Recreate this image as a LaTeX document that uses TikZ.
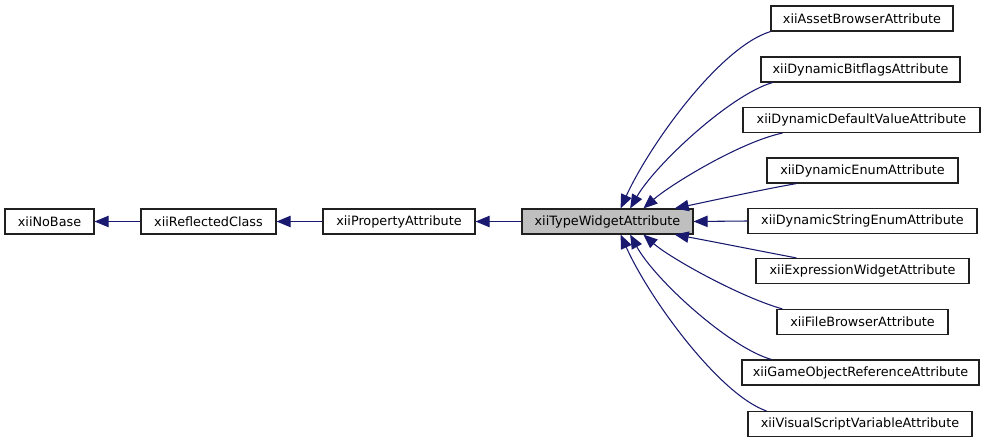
\documentclass[tikz,border=0pt]{standalone}
\usepackage{fontspec}
\setmainfont{DejaVu Sans}
\usetikzlibrary{arrows.meta, calc}
\definecolor{edgeNavy}{HTML}{191970}
\definecolor{baseGray}{HTML}{BFBFBF}
\definecolor{boxLine}{HTML}{202020}
\tikzstyle{classbox} = [rectangle, draw=boxLine, fill=white, line width=0.85pt,
  minimum height=18.75pt, inner sep=0pt, font=\fontsize{9.6}{11}\selectfont]
\tikzstyle{inh} = [-{Triangle[length=10.5pt,width=8.5pt]}, color=edgeNavy, line width=0.8pt]

\begin{document}
\begin{tikzpicture}[x=0.75pt, y=-0.75pt]
  \useasboundingbox (0,0) rectangle (989,443);

  % Base chain
  \node[classbox, minimum width=66.75pt] (nobase) at (49.5,221.5) {xiiNoBase};
  \node[classbox, minimum width=101.25pt] (reflected) at (208.5,221.5) {xiiReflectedClass};
  \node[classbox, minimum width=114pt] (property) at (399,221.5) {xiiPropertyAttribute};
  \node[classbox, minimum width=128.25pt, fill=baseGray] (typewidget) at (607.5,221.5) {xiiTypeWidgetAttribute};

  % Derived attributes
  \node[classbox, minimum width=136.5pt] (asset) at (862,18.5) {xiiAssetBrowserAttribute};
  \node[classbox, minimum width=149.25pt] (bitflags) at (860.5,69.5) {xiiDynamicBitflagsAttribute};
  \node[classbox, minimum width=177.75pt] (defval) at (861.5,120) {xiiDynamicDefaultValueAttribute};
  \node[classbox, minimum width=143.25pt] (enum) at (862.5,170.5) {xiiDynamicEnumAttribute};
  \node[classbox, minimum width=171.75pt] (strenum) at (862.5,221) {xiiDynamicStringEnumAttribute};
  \node[classbox, minimum width=159.75pt] (expr) at (862.5,271) {xiiExpressionWidgetAttribute};
  \node[classbox, minimum width=128.25pt] (filebr) at (862.5,322) {xiiFileBrowserAttribute};
  \node[classbox, minimum width=177.75pt] (gameobj) at (860.5,372.5) {xiiGameObjectReferenceAttribute};
  \node[classbox, minimum width=168pt] (visvar) at (860,424) {xiiVisualScriptVariableAttribute};

  % Inheritance arrows
  \foreach \child/\parent in {reflected/nobase, property/reflected, typewidget/property, strenum/typewidget} {
    \draw[inh] (\child.west) -- (\parent.east);
  }
  \draw[inh] (asset.south west) .. controls (720,47) and (650,144) .. (typewidget.45);
  \draw[inh] ($(bitflags.south west)+(12,0)$) .. controls (730,95) and (655,165) .. (typewidget.30);
  \draw[inh] ($(defval.south west)+(40,0)$) .. controls (740,142) and (670,185) .. (typewidget.20);
  \draw[inh] ($(enum.south west)+(30,0)$) .. controls (760,190) and (715,200) .. (typewidget.11);
  \draw[inh] ($(expr.north west)+(41,0)$) .. controls (760,251) and (715,242) .. (typewidget.-11);
  \draw[inh] ($(filebr.north west)+(6,0)$) .. controls (740,297) and (670,258) .. (typewidget.-20);
  \draw[inh] ($(gameobj.north west)+(30,0)$) .. controls (730,348) and (655,280) .. (typewidget.-30);
  \draw[inh] ($(visvar.north west)+(19,0)$) .. controls (720,395) and (650,300) .. (typewidget.-45);
\end{tikzpicture}
\end{document}
